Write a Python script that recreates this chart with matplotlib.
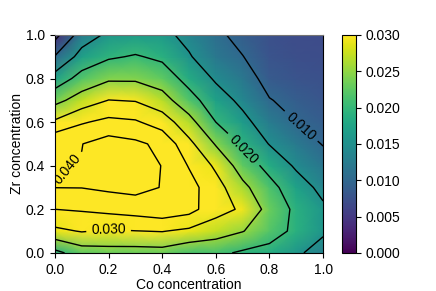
import matplotlib
matplotlib.use("Agg")
import matplotlib.pyplot as plt
import numpy as np

plt.rcParams['font.family'] = ['Liberation Sans', 'DejaVu Sans']
plt.rcParams['font.size'] = 10

# composition grid (fractions)
co = np.linspace(0.0, 1.0, 11)
zr = np.linspace(0.0, 1.0, 11)

# values per Co column (i), listed from Zr = 0.0 up to Zr = 1.0
col_00 = [0.0186, 0.0289, 0.0350, 0.04005, 0.0397, 0.0396, 0.0308, 0.0235, 0.0170, 0.0103, 0.0033]
col_01 = [0.0225, 0.0303, 0.0355, 0.0401, 0.0402, 0.0399, 0.0345, 0.0272, 0.0218, 0.0168, 0.0125]
col_02 = [0.0231, 0.0295, 0.0364, 0.0409, 0.0440, 0.0422, 0.0363, 0.0301, 0.0243, 0.0194, 0.0159]
col_03 = [0.0230, 0.0299, 0.0372, 0.0415, 0.0435, 0.0410, 0.0356, 0.0297, 0.0243, 0.0204, 0.0165]
col_04 = [0.0232, 0.0302, 0.0384, 0.0398, 0.0398, 0.0388, 0.0327, 0.0269, 0.0227, 0.0191, 0.0162]
col_05 = [0.0213, 0.0290, 0.0368, 0.0368, 0.0347, 0.0313, 0.0267, 0.0219, 0.0183, 0.0154, 0.0137]
col_06 = [0.0211, 0.0273, 0.0318, 0.0320, 0.0291, 0.0246, 0.0200, 0.0172, 0.0144, 0.0120, 0.0108]
col_07 = [0.0193, 0.0252, 0.0293, 0.0262, 0.0227, 0.0193, 0.0163, 0.0139, 0.0120, 0.0101, 0.0088]
col_08 = [0.0185, 0.0220, 0.0232, 0.0215, 0.0185, 0.0148, 0.0125, 0.0102, 0.0085, 0.0078, 0.0074]
col_09 = [0.0158, 0.0190, 0.0190, 0.0173, 0.0143, 0.0122, 0.0100, 0.0088, 0.0078, 0.0072, 0.0068]
col_10 = [0.0130, 0.0157, 0.0158, 0.0137, 0.0118, 0.0098, 0.0088, 0.0080, 0.0074, 0.0070, 0.0068]

plain_levels = [0.005, 0.015, 0.025, 0.035]
label_levels = [0.010, 0.020, 0.030, 0.040]
cbar_ticks = [0.000, 0.005, 0.010, 0.015, 0.020, 0.025, 0.030]

Z = np.array([col_00, col_01, col_02, col_03, col_04, col_05,
              col_06, col_07, col_08, col_09, col_10]).T
X, Y = np.meshgrid(co, zr)

fig = plt.figure(figsize=(4.36, 2.91), dpi=100)
ax = fig.add_axes([0.126, 0.131, 0.615, 0.749])
cax = fig.add_axes([0.784, 0.131, 0.033, 0.749])

mesh = ax.pcolormesh(X, Y, Z, shading='gouraud', cmap='viridis', vmin=0.0, vmax=0.03)
ax.contour(X, Y, Z, levels=plain_levels, colors='k', linewidths=1.0)
cs = ax.contour(X, Y, Z, levels=label_levels, colors='k', linewidths=1.0)
ax.clabel(cs, fmt='%.3f', fontsize=10, inline=True,
          manual=[(0.91, 0.57), (0.70, 0.47), (0.20, 0.11), (0.055, 0.375)])

ax.set_xlim(0, 1)
ax.set_ylim(0, 1)
ax.set_xticks(np.arange(0, 1.01, 0.2))
ax.set_yticks(np.arange(0, 1.01, 0.2))
ax.set_xlabel('Co concentration', labelpad=1)
ax.set_ylabel('Zr concentration', labelpad=1)
ax.spines['top'].set_color('0.45')

cb = fig.colorbar(mesh, cax=cax, ticks=cbar_ticks, format='%.3f')
cb.outline.set_linewidth(0.8)

fig.savefig('out.png', dpi=100)
